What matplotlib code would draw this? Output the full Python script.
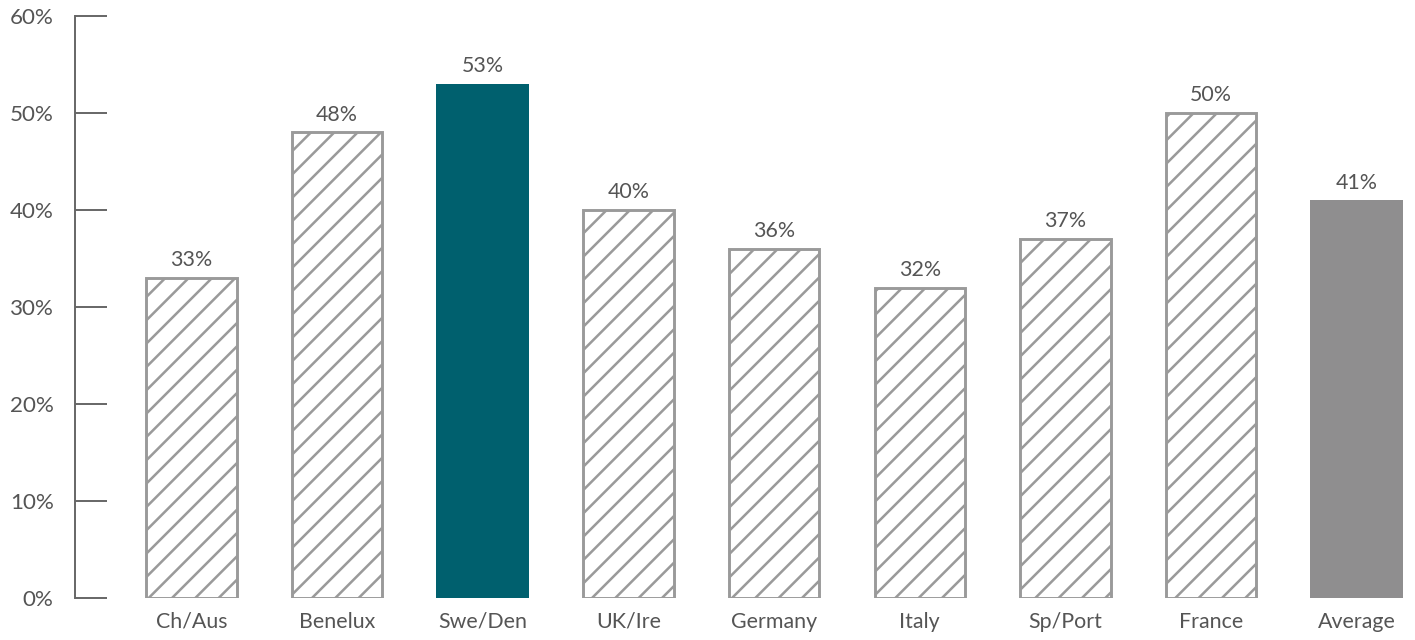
import matplotlib
matplotlib.use('Agg')
import matplotlib.pyplot as plt
from matplotlib.ticker import FuncFormatter

regions = ["Ch/Aus", "Benelux", "Swe/Den", "UK/Ire", "Germany", "Italy", "Sp/Port", "France", "Average"]
shares = [33, 48, 53, 40, 36, 32, 37, 50, 41]
y_ticks = [0, 10, 20, 30, 40, 50, 60]

DPI = 140
plt.rcParams['font.family'] = ['Lato', 'DejaVu Sans']
plt.rcParams['hatch.linewidth'] = 1.3
plt.rcParams['hatch.color'] = '#9a9a9a'

TEXT = '#555555'
EDGE = '#9a9a9a'
TEAL = '#00606e'
GREY = '#8f8e8f'

fig = plt.figure(figsize=(1415 / DPI, 640 / DPI), dpi=DPI)
ax = fig.add_axes([75 / 1415, 42 / 640, 1 - 75 / 1415, (598 - 16) / 640])

x = list(range(len(regions)))
for i, (name, v) in enumerate(zip(regions, shares)):
    if name == "Swe/Den":
        ax.bar(i, v, width=0.64, color=TEAL, linewidth=0)
    elif name == "Average":
        ax.bar(i, v, width=0.64, color=GREY, linewidth=0)
    else:
        ax.bar(i, v, width=0.62, facecolor='white', edgecolor=EDGE,
               hatch='//', linewidth=1.5)
    ax.annotate(f"{v}%", (i, v), xytext=(0, 4), textcoords='offset points',
                ha='center', va='bottom', fontsize=11, color=TEXT)

ax.set_xlim(-0.8, 8.4)
ax.set_ylim(0, 60)
ax.set_yticks(y_ticks)
ax.yaxis.set_major_formatter(FuncFormatter(lambda v, p: f"{v:.0f}%"))
ax.set_xticks(x)
ax.set_xticklabels(regions)

for s in ['top', 'right', 'bottom']:
    ax.spines[s].set_visible(False)
ax.spines['left'].set_color('#666666')
ax.spines['left'].set_linewidth(1.0)

ax.tick_params(axis='y', direction='in', length=16.5, width=1.0, color='#666666',
               labelsize=11.5, labelcolor=TEXT, pad=11)
ax.tick_params(axis='x', length=0, labelsize=11, labelcolor=TEXT, pad=7)

fig.savefig('out.png', dpi=DPI)
